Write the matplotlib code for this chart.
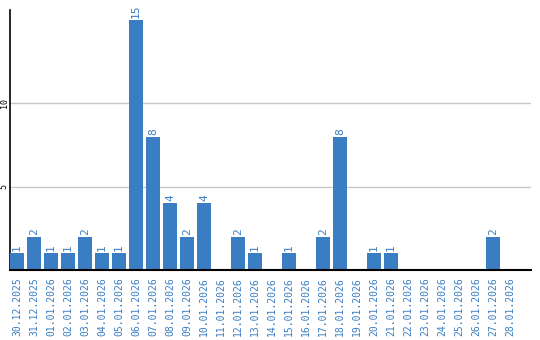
import matplotlib
matplotlib.use("Agg")
import matplotlib.pyplot as plt

dates = ["30.12.2025", "31.12.2025", "01.01.2026", "02.01.2026", "03.01.2026",
         "04.01.2026", "05.01.2026", "06.01.2026", "07.01.2026", "08.01.2026",
         "09.01.2026", "10.01.2026", "11.01.2026", "12.01.2026", "13.01.2026",
         "14.01.2026", "15.01.2026", "16.01.2026", "17.01.2026", "18.01.2026",
         "19.01.2026", "20.01.2026", "21.01.2026", "22.01.2026", "23.01.2026",
         "24.01.2026", "25.01.2026", "26.01.2026", "27.01.2026", "28.01.2026"]
values = [1, 2, 1, 1, 2, 1, 1, 15, 8, 4, 2, 4, 0, 2, 1, 0, 1, 0, 2, 8,
          0, 1, 1, 0, 0, 0, 0, 0, 2, 0]
yticks = [5, 10]

blue = "#3a7dc2"
W, H = 540, 340
fig = plt.figure(figsize=(W / 100, H / 100), dpi=100)
ax = fig.add_axes([10 / W, (H - 270) / H, 521 / W, 260 / H])

x = list(range(len(dates)))
bw = 0.82
ax.bar(x, values, width=bw, color=blue, zorder=3)
for xi, v in zip(x, values):
    if v > 0:
        ax.text(xi, v + 0.12, str(v), rotation=90, ha="center", va="bottom",
                color=blue, fontsize=8, family="DejaVu Sans Mono")

ax.set_xlim(-bw / 2, -bw / 2 + 521 / 17.0)
ax.set_ylim(0, 15.6)
ax.set_yticks(yticks)
ax.set_yticklabels([str(t) for t in yticks], rotation=90, va="center",
                   fontsize=6, family="DejaVu Sans Mono")
ax.set_xticks(x)
ax.set_xticklabels(dates, rotation=90, color=blue, fontsize=7,
                   family="DejaVu Sans Mono")
ax.tick_params(axis="both", length=0)
ax.tick_params(axis="y", pad=1)
ax.tick_params(axis="x", pad=5)
ax.grid(axis="y", color="#c8c8c8", linewidth=1, zorder=0)
for s in ["top", "right"]:
    ax.spines[s].set_visible(False)
ax.spines["left"].set_color("black")
ax.spines["bottom"].set_color("black")
ax.spines["left"].set_linewidth(1.2)
ax.spines["bottom"].set_linewidth(1.5)
ax.spines["bottom"].set_zorder(4)

fig.savefig("out.png", dpi=100)
